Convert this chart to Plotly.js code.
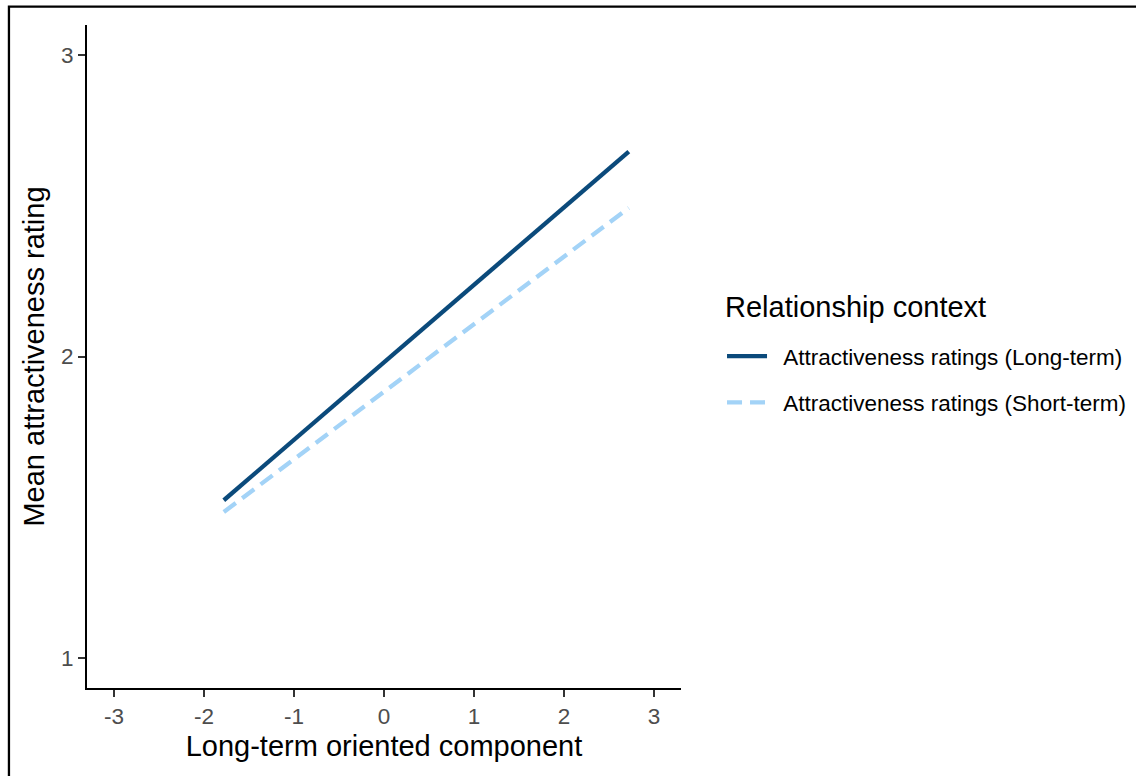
<!DOCTYPE html>
<html>
<head>
<meta charset="utf-8">
<script src="https://cdn.plot.ly/plotly-3.0.1.min.js"></script>
<style>
  html, body { margin: 0; padding: 0; background: #fff; }
  #chart { width: 1136px; height: 776px; }
</style>
</head>
<body>
<div id="chart"></div>
<script>
// Data
const xEnds = [-1.78, 2.72];
const longTerm = [1.523, 2.680];
const shortTerm = [1.484, 2.493];
const seriesNames = ["Attractiveness ratings (Long-term)", "Attractiveness ratings (Short-term)"];
const legendTitle = "Relationship context";
const xTicks = [-3, -2, -1, 0, 1, 2, 3];
const yTicks = [1, 2, 3];

const traces = [
  {
    x: xEnds, y: longTerm, mode: "lines", name: "\u2002" + seriesNames[0],
    legendgroup: "a",
    line: { color: "#0b4a7b", width: 4.3 }
  },
  {
    x: xEnds, y: shortTerm, mode: "lines", name: "\u2002" + seriesNames[1],
    legendgroup: "b",
    line: { color: "#a3d3f7", width: 4.3, dash: "15px,8px" }
  }
];

const font = "Liberation Sans, Arial, sans-serif";

const layout = {
  width: 1136, height: 776,
  margin: { l: 87.3, r: 455, t: 25, b: 88.3, pad: 0, autoexpand: false },
  paper_bgcolor: "#ffffff",
  plot_bgcolor: "#ffffff",
  font: { family: font, color: "#000" },
  showlegend: true,
  xaxis: {
    range: [-3.3, 3.3],
    tickvals: xTicks,
    ticktext: xTicks.map(String),
    showgrid: false, zeroline: false,
    showline: true, linecolor: "#000", linewidth: 2,
    ticks: "outside", ticklen: 7, tickwidth: 2, tickcolor: "#333",
    tickfont: { size: 22.5, color: "#4d4d4d", family: font },
    title: { text: "Long-term oriented component", font: { size: 29, color: "#000", family: font }, standoff: 8 }
  },
  yaxis: {
    range: [0.9, 3.1],
    tickvals: yTicks,
    ticktext: yTicks.map(String),
    showgrid: false, zeroline: false,
    showline: true, linecolor: "#000", linewidth: 2,
    ticks: "outside", ticklen: 7, tickwidth: 2, tickcolor: "#333",
    tickfont: { size: 22.5, color: "#4d4d4d", family: font },
    title: { text: "Mean attractiveness rating", font: { size: 29, color: "#000", family: font }, standoff: 8 }
  },
  legend: {
    x: (722 - 87.3) / 593.7, xanchor: "left",
    y: 0.5325, yanchor: "top",
    bgcolor: "rgba(0,0,0,0)",
    font: { size: 22.5, color: "#000", family: font },
    traceorder: "grouped",
    tracegroupgap: 14,
    itemwidth: 40
  },
  annotations: [
    {
      text: legendTitle, xref: "paper", yref: "paper",
      x: (723 - 87.3) / 593.7, xanchor: "left",
      y: (687.7 - 307) / 662.7, yanchor: "middle",
      showarrow: false,
      font: { size: 29, color: "#000", family: font }
    }
  ],
  shapes: [
    {
      type: "rect", xref: "paper", yref: "paper",
      x0: -0.1314, x1: 2.0, y0: -1.0, y1: 1.0276,
      line: { color: "#000", width: 2.3 },
      fillcolor: "rgba(0,0,0,0)", layer: "above"
    }
  ]
};

Plotly.newPlot("chart", traces, layout, { displayModeBar: false, staticPlot: true });
</script>
</body>
</html>
